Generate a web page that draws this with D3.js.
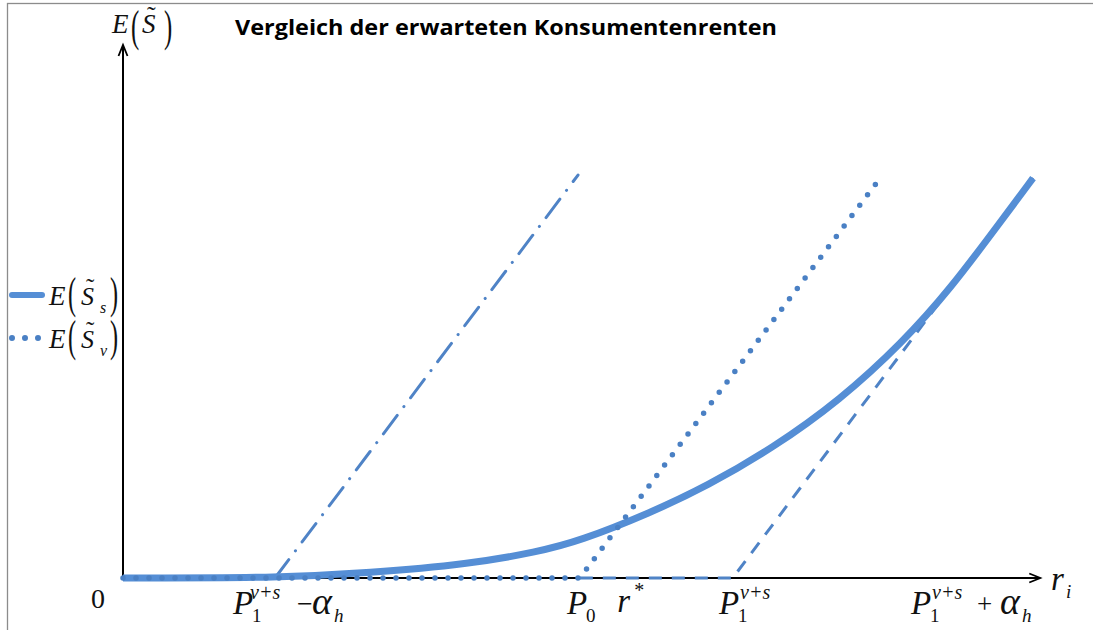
<!DOCTYPE html>
<html>
<head>
<meta charset="utf-8">
<script src="https://cdn.jsdelivr.net/npm/d3@7"></script>
<style>
  body { margin: 0; background: #fff; }
  svg { display: block; }
  .math { font-family: "Liberation Serif", "Times New Roman", serif; fill: #111; }
</style>
</head>
<body>
<div id="chart"></div>
<script>
// Konsumentenrente-Kurven (Werte in Achseneinheiten)
const solidX = [0, 1.67, 2.71, 3.81, 4.55, 5.02, 5.79, 6.42, 7.14, 7.88, 8.57, 9.09, 9.64, 10];
const solidY = [0, 0, 0.055, 0.154, 0.286, 0.407, 0.714, 1.011, 1.429, 1.956, 2.593, 3.176, 3.912, 4.396];
const dottedX = [0, 5.02, 8.30];
const dottedY = [0, 0, 4.37];
const dashedX = [5.02, 6.70, 10];
const dashedY = [0, 0, 4.40];
const dashDotX = [1.67, 5.0];
const dashDotY = [0, 4.43];
// Beschriftung der r-Achse
const tickNames = ["P1-a", "P0", "r*", "P1", "P1+a"];
const tickPos = [1.21, 4.88, 5.43, 6.55, 8.66];
const legendSubs = ["s", "v"];

const W = 1093, H = 630;
const svg = d3.select("#chart").append("svg")
    .attr("width", W)
    .attr("height", H);

const xs = d3.scaleLinear().domain([0, 10]).range([123, 1033]);
const ys = d3.scaleLinear().domain([0, 5.86]).range([578, 45]);
const xMax = 10.08;

// Rahmen (nur oben/links sichtbar)
svg.append("rect")
    .attr("x", 7.5).attr("y", 3.5)
    .attr("width", W).attr("height", H)
    .attr("fill", "none")
    .attr("stroke", "#8c8c8c")
    .attr("stroke-width", 1.3);

// Titel
svg.append("text")
    .attr("x", 235).attr("y", 35)
    .attr("textLength", 542)
    .attr("lengthAdjust", "spacingAndGlyphs")
    .style("font-family", "'Open Sans', 'Noto Sans', sans-serif")
    .style("font-weight", 700)
    .style("font-size", "22px")
    .style("fill", "#000")
    .text("Vergleich der erwarteten Konsumentenrenten");

// Achsen
const axes = svg.append("g").attr("stroke", "#000").attr("stroke-width", 2).attr("fill", "none");
axes.append("line")
    .attr("x1", xs(0)).attr("y1", ys(0))
    .attr("x2", xs(xMax)).attr("y2", ys(0));
axes.append("line")
    .attr("x1", xs(0)).attr("y1", ys(0))
    .attr("x2", xs(0)).attr("y2", ys(5.86));
// Pfeilspitzen
axes.append("path")
    .attr("d", `M${xs(xMax) - 11},${ys(0) - 4.5} L${xs(xMax)},${ys(0)} L${xs(xMax) - 11},${ys(0) + 4.5}`)
    .attr("stroke-width", 1.8);
axes.append("path")
    .attr("d", `M${xs(0) - 4.5},${ys(5.86) + 11} L${xs(0)},${ys(5.86)} L${xs(0) + 4.5},${ys(5.86) + 11}`)
    .attr("stroke-width", 1.8);

const line = d3.line().x(d => xs(d[0])).y(d => ys(d[1]));
const lineSmooth = d3.line().x(d => xs(d[0])).y(d => ys(d[1])).curve(d3.curveBasis);
const zip = (a, b) => a.map((v, i) => [v, b[i]]);

// gestrichelt
svg.append("path")
    .attr("d", line(zip(dashedX, dashedY)))
    .attr("fill", "none")
    .attr("stroke", "#4f83c6")
    .attr("stroke-width", 3)
    .attr("stroke-dasharray", "13 10");

// Strich-Punkt
svg.append("path")
    .attr("d", line(zip(dashDotX, dashDotY)))
    .attr("fill", "none")
    .attr("stroke", "#4f83c6")
    .attr("stroke-width", 3)
    .attr("stroke-linecap", "round")
    .attr("stroke-dasharray", "23 11 0.1 11");

// E(S_s) durchgezogen
svg.append("path")
    .attr("d", lineSmooth(zip(solidX, solidY)))
    .attr("fill", "none")
    .attr("stroke", "#558ed5")
    .attr("stroke-width", 7)
    .attr("stroke-linejoin", "round");

// E(S_v) gepunktet
svg.append("path")
    .attr("d", line(zip(dottedX, dottedY)))
    .attr("fill", "none")
    .attr("stroke", "#4a80c4")
    .attr("stroke-width", 5.5)
    .attr("stroke-linecap", "round")
    .attr("stroke-dasharray", "0 13");

// Formeltext; Klammern schmal skaliert wie im Formeleditor
function mathLabel(x, y, parts) {
    const g = svg.append("g").attr("class", "math").attr("transform", `translate(${x},${y})`);
    parts.forEach(p => {
        const t = g.append("text")
            .style("font-size", p.s + "px")
            .style("font-style", p.i ? "italic" : "normal")
            .text(p.t);
        if (p.sx) {
            t.attr("transform", `translate(${p.x || 0},${p.y || 0}) scale(${p.sx},1)`);
        } else {
            t.attr("x", p.x || 0).attr("y", p.y || 0);
        }
    });
    return g;
}

// E(S~) an der y-Achse
mathLabel(112, 33, [
    {t: "E", s: 27, i: true},
    {t: "(", x: 19, y: 8, s: 45, sx: 0.55},
    {t: "S", x: 30, s: 27, i: true},
    {t: "˜", x: 35, y: -9, s: 26},
    {t: ")", x: 52, y: 8, s: 45, sx: 0.55}
]);

// Legende
const legend = svg.append("g");
legendSubs.forEach((sub, i) => {
    const y = 295 + i * 43;
    if (i === 0) {
        legend.append("line")
            .attr("x1", 12).attr("x2", 42)
            .attr("y1", y).attr("y2", y)
            .attr("stroke", "#558ed5")
            .attr("stroke-width", 6)
            .attr("stroke-linecap", "round");
    } else {
        legend.append("line")
            .attr("x1", 12).attr("x2", 39)
            .attr("y1", y).attr("y2", y)
            .attr("stroke", "#4a80c4")
            .attr("stroke-width", 6)
            .attr("stroke-linecap", "round")
            .attr("stroke-dasharray", "0 13");
    }
    mathLabel(49, y + 10, [
        {t: "E", s: 27, i: true},
        {t: "(", x: 19, y: 3, s: 44, sx: 0.55},
        {t: "S", x: 32, s: 26, i: true},
        {t: "˜", x: 37, y: -9, s: 25},
        {t: sub, x: 51, y: 8, s: 16, i: true},
        {t: ")", x: 61, y: 3, s: 44, sx: 0.55}
    ]);
});

// Achsenbeschriftungen
mathLabel(91, 608, [{t: "0", s: 28}]);

const sup = (x) => ({t: "v+s", x: x, y: -15, s: 20, i: true});
const labelParts = {
    "P1-a": [
        {t: "P", s: 33, i: true},
        {t: "1", x: 19, y: 8, s: 19},
        sup(17),
        {t: "−", x: 64, y: -1, s: 28},
        {t: "α", x: 79, s: 38, i: true},
        {t: "h", x: 101, y: 8, s: 19, i: true}
    ],
    "P0": [
        {t: "P", s: 33, i: true},
        {t: "0", x: 19, y: 8, s: 19}
    ],
    "r*": [
        {t: "r", s: 33, i: true},
        {t: "*", x: 17, y: -15, s: 20}
    ],
    "P1": [
        {t: "P", s: 33, i: true},
        {t: "1", x: 19, y: 8, s: 19},
        sup(21)
    ],
    "P1+a": [
        {t: "P", s: 33, i: true},
        {t: "1", x: 19, y: 8, s: 19},
        sup(21),
        {t: "+", x: 66, y: -1, s: 27},
        {t: "α", x: 89, s: 38, i: true},
        {t: "h", x: 111, y: 8, s: 19, i: true}
    ]
};
tickNames.forEach((name, i) => {
    const base = name === "r*" ? 612 : 614;
    mathLabel(xs(tickPos[i]), base, labelParts[name]);
});

// r_i am Pfeil
mathLabel(1051, 590, [
    {t: "r", s: 33, i: true},
    {t: "i", x: 15, y: 8, s: 19, i: true}
]);
</script>
</body>
</html>
